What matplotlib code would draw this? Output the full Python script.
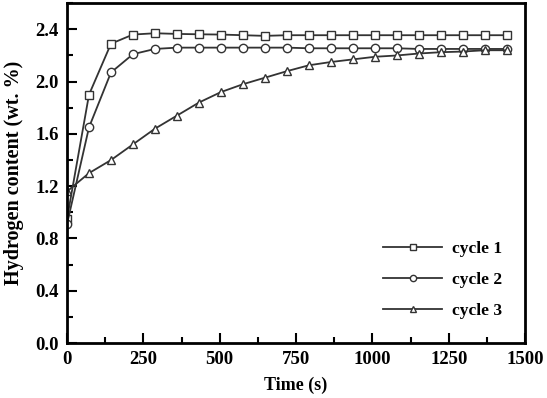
import numpy as np
import matplotlib
matplotlib.use('Agg')
import matplotlib.pyplot as plt
from matplotlib.ticker import MultipleLocator

plt.rcParams['font.family'] = ['Liberation Serif', 'DejaVu Serif']
plt.rcParams['font.weight'] = 'bold'

# time points (s)
time = [0, 72, 144, 216, 288, 360, 432, 504, 576, 648, 720,
        792, 864, 936, 1008, 1080, 1152, 1224, 1296, 1368, 1440]

# hydrogen content (wt. %)
cycle1 = [0.95, 1.90, 2.29, 2.36, 2.37, 2.365, 2.362, 2.36, 2.355, 2.35, 2.355,
          2.355, 2.355, 2.355, 2.355, 2.355, 2.355, 2.355, 2.355, 2.355, 2.355]
cycle2 = [0.91, 1.65, 2.07, 2.21, 2.25, 2.26, 2.26, 2.26, 2.26, 2.26, 2.26,
          2.255, 2.255, 2.255, 2.255, 2.255, 2.25, 2.25, 2.25, 2.25, 2.25]
cycle3 = [1.16, 1.30, 1.40, 1.52, 1.64, 1.74, 1.84, 1.92, 1.98, 2.03, 2.08,
          2.125, 2.15, 2.17, 2.19, 2.20, 2.215, 2.225, 2.23, 2.24, 2.24]

series = [(cycle1, 's', 'cycle 1'), (cycle2, 'o', 'cycle 2'), (cycle3, '^', 'cycle 3')]

fig = plt.figure(figsize=(5.47, 3.98), dpi=100)
ax = fig.add_axes([0.1225, 0.138, 0.8375, 0.854])

for vals, mk, lab in series:
    ax.plot(time, vals, color='#333333', lw=1.3, marker=mk, ms=6,
            mfc='white', mec='#333333', mew=1.0, label=lab)

ax.set_xlim(0, 1500)
ax.set_ylim(0, 2.6)
ax.xaxis.set_major_locator(MultipleLocator(250))
ax.xaxis.set_minor_locator(MultipleLocator(125))
ax.yaxis.set_major_locator(MultipleLocator(0.4))
ax.yaxis.set_minor_locator(MultipleLocator(0.2))
ax.yaxis.set_major_formatter(plt.FormatStrFormatter('%.1f'))
ax.tick_params(which='both', direction='in', top=False, right=False,
               labelsize=13.5, width=1.5, pad=6)
ax.tick_params(which='major', length=7)
ax.tick_params(which='minor', length=4)
for sp in ax.spines.values():
    sp.set_linewidth(2)

ax.set_xlabel('Time (s)', fontsize=13, fontweight='bold', labelpad=6)
ax.set_ylabel('Hydrogen content (wt. %)', fontsize=14.5, fontweight='bold', labelpad=8)

leg = ax.legend(loc='lower right', bbox_to_anchor=(0.985, 0.025), frameon=False,
                fontsize=12.5, handlelength=3.4, handletextpad=0.6,
                labelspacing=0.85, markerscale=0.75)

fig.savefig('out.png', dpi=100)
